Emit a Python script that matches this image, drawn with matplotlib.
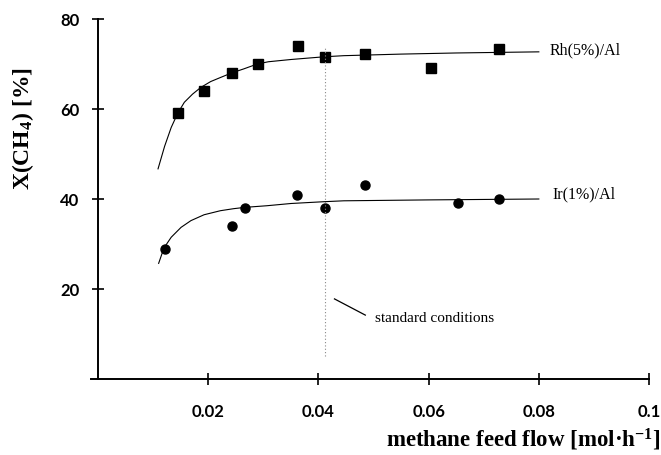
import matplotlib
matplotlib.use('Agg')
import matplotlib.pyplot as plt

plt.rcParams['mathtext.fontset'] = 'custom'
plt.rcParams['mathtext.rm'] = 'Liberation Serif'
plt.rcParams['mathtext.bf'] = 'Liberation Serif:bold'
plt.rcParams['mathtext.default'] = 'bf'

# measured points, Rh(5%)/Al catalyst (squares)
rh_flow = [0.0145, 0.0193, 0.0243, 0.0291, 0.0363, 0.0412, 0.0484, 0.0605, 0.0727]
rh_conv = [59.1, 64.1, 68.1, 70.0, 74.1, 71.6, 72.2, 69.2, 73.3]

# measured points, Ir(1%)/Al catalyst (circles)
ir_flow = [0.0121, 0.0243, 0.0266, 0.0361, 0.0412, 0.0485, 0.0654, 0.0727]
ir_conv = [29.0, 34.1, 38.0, 41.0, 38.1, 43.2, 39.1, 40.1]

# fitted curves
rh_fit_x = [0.01087, 0.01206, 0.01326, 0.01446, 0.01565, 0.01713, 0.01864, 0.02043,
            0.0222, 0.0242, 0.0264, 0.0289, 0.0309, 0.0350, 0.0410, 0.0446,
            0.0550, 0.0650, 0.0800]
rh_fit_y = [46.7, 51.7, 55.9, 59.1, 61.5, 63.3, 64.8, 66.1,
            67.0, 68.0, 68.9, 70.0, 70.5, 71.0, 71.6, 71.85,
            72.2, 72.45, 72.7]
ir_fit_x = [0.01098, 0.01194, 0.01326, 0.01505, 0.01685, 0.01923, 0.0222, 0.0246,
            0.0267, 0.0306, 0.0350, 0.0410, 0.0446, 0.0600, 0.0800]
ir_fit_y = [25.7, 29.1, 31.5, 33.7, 35.2, 36.5, 37.4, 37.85,
            38.15, 38.5, 39.0, 39.4, 39.6, 39.8, 40.0]

std_flow = 0.0412

xticks = [0.02, 0.04, 0.06, 0.08, 0.1]
xtick_labels = ['0.02', '0.04', '0.06', '0.08', '0.1']
yticks = [20, 40, 60, 80]

fig = plt.figure(figsize=(6.61, 4.56), dpi=100)
ax = fig.add_axes([91/661, 76/456, 558/661, 360/456])

ax.plot(rh_fit_x, rh_fit_y, color='black', lw=0.8)
ax.plot(ir_fit_x, ir_fit_y, color='black', lw=0.8)
ax.plot(rh_flow, rh_conv, 's', color='black', ms=7)
ax.plot(ir_flow, ir_conv, 'o', color='black', ms=6.5)

# standard conditions marker
ax.plot([std_flow, std_flow], [5.2, 73.8], color='#888888', lw=0.8, ls=(0, (1, 2)))
ax.plot([0.0429, 0.0485], [17.8, 14.2], color='black', lw=0.9)
ax.text(0.0503, 13.6, 'standard conditions', family='Liberation Serif',
        fontsize=11, va='center', ha='left')

ax.text(0.0820, 73.3, 'Rh(5%)/Al', family='Liberation Serif', fontsize=11.5,
        va='center', ha='left')
ax.text(0.0825, 41.2, 'Ir(1%)/Al', family='Liberation Serif', fontsize=11.5,
        va='center', ha='left')

ax.set_xlim(-0.0013, 0.1)
ax.set_ylim(0, 80)
ax.spines['left'].set_position(('data', 0))
ax.spines['right'].set_visible(False)
ax.spines['top'].set_visible(False)
for s in ['left', 'bottom']:
    ax.spines[s].set_linewidth(1.4)

ax.set_xticks(xticks)
ax.set_xticklabels(xtick_labels)
ax.set_yticks(yticks)
ax.tick_params(axis='both', direction='inout', length=9, width=1.2)
ax.tick_params(axis='x', pad=13)
ax.tick_params(axis='y', pad=9)
for lab in ax.get_xticklabels() + ax.get_yticklabels():
    lab.set_family('Lato')
    lab.set_fontweight('bold')
    lab.set_fontsize(12)

fig.text(23/661, 1 - 129/456, 'X(CH$_4$) [%]', rotation=90, family='Liberation Serif',
         fontweight='bold', fontsize=17, ha='center', va='center')
fig.text(660/661, 1 - 440/456, 'methane feed flow [mol·h$^{-1}$]', family='Liberation Serif',
         fontweight='bold', fontsize=16.5, ha='right', va='center')

fig.savefig('out.png', dpi=100)
